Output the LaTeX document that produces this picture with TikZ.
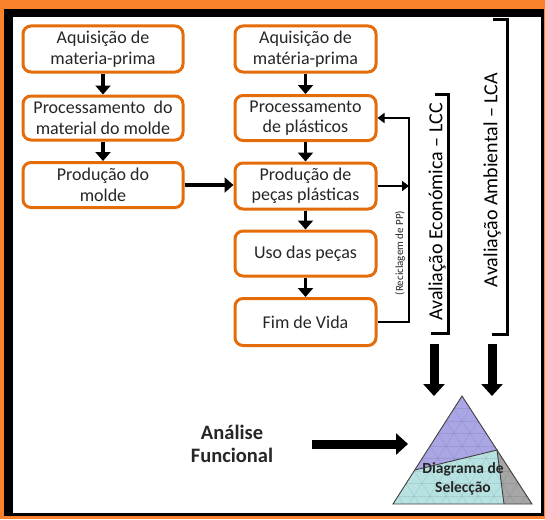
\documentclass[tikz,border=0pt]{standalone}
\usepackage{fontspec}
\setmainfont{Carlito}
\usetikzlibrary{arrows.meta}
\definecolor{bgorange}{RGB}{250,130,45}
\definecolor{boxorange}{RGB}{228,108,10}
\definecolor{txt}{RGB}{38,38,38}
\definecolor{tripurple}{RGB}{170,166,230}
\definecolor{tricyan}{RGB}{183,226,226}
\definecolor{trigrey}{RGB}{166,166,166}
\begin{document}
\begin{tikzpicture}[x=1pt,y=-1pt,
 stagebox/.style={draw=boxorange, line width=3pt, rounded corners=8pt, fill=white, align=center, inner sep=0pt, text=txt, font=\fontsize{18}{20.5}\selectfont},
 flow/.style={line width=3.5pt, -{Triangle[width=15pt,length=9pt]}},
 recyc/.style={line width=2.2pt, -{Triangle[width=10pt,length=7pt]}},
 bracketline/.style={line width=3pt},
 bigarrow/.style={line width=9pt, -{Triangle[width=21pt,length=12pt]}},
 gridline/.style={black, opacity=0.08, line width=0.6pt},
 evaltext/.style={rotate=90, font=\fontsize{20}{24}\selectfont, text=black, inner sep=0pt},
]
\useasboundingbox (0,0) rectangle (545,519);
\fill[bgorange] (0,0) rectangle (545,519);
\fill[black] (4,9) rectangle (544,516);
\fill[white] (13,17) rectangle (541,513);

% left column
\node[stagebox, minimum width=160pt, minimum height=46pt] (L1) at (103,49) {Aquisição de\\materia-prima};
\node[stagebox, minimum width=160pt, minimum height=44pt] (L2) at (103,118) {Processamento\ \ do\\material do molde};
\node[stagebox, minimum width=160pt, minimum height=45pt] (L3) at (103,185) {Produção do\\molde};
% middle column
\node[stagebox, minimum width=141pt, minimum height=46pt] (M1) at (305.5,49) {Aquisição de\\matéria-prima};
\node[stagebox, minimum width=141pt, minimum height=45pt] (M2) at (305.5,118) {Processamento\\de plásticos};
\node[stagebox, minimum width=141pt, minimum height=46pt] (M3) at (305.5,186) {Produção de\\peças plásticas};
\node[stagebox, minimum width=141pt, minimum height=45pt] (M4) at (305.5,253.5) {Uso das peças};
\node[stagebox, minimum width=141pt, minimum height=47pt] (M5) at (305.5,322) {Fim de Vida};

\draw[flow] (L1) -- (L2);
\draw[flow] (L2) -- (L3);
\draw[flow] (M1) -- (M2);
\draw[flow] (M2) -- (M3);
\draw[flow] (M3) -- (M4);
\draw[flow] (M4) -- (M5);
\draw[flow] (L3.east |- 0,185) -- (M3.west |- 0,185);

% recycling loop
\coordinate (rb) at (409,322);
\coordinate (rt) at (409,118);
\coordinate (rm) at (409,186);
\draw[recyc] (M5.east) -- (rb) -- (rt) -- (M2.east);
\draw[recyc] (M3.east) -- (rm);
\node[rotate=90, font=\fontsize{11}{13}\selectfont, text=txt, inner sep=0pt] (rec) at (400,253) {(Reciclagem de PP)};

% brackets
\draw[bracketline] (435,94) -- (448,94) -- (448,333) -- (431,333);
\draw[bracketline] (493,20) -- (507,20) -- (507,334) -- (492,334);
\node[evaltext] (lcc) at (437,212) {Avaliação Económica – LCC};
\node[evaltext] (lca) at (492,180) {Avaliação Ambiental – LCA};

% big arrows
\coordinate (a1s) at (434,344);
\coordinate (a1e) at (434,396);
\coordinate (a2s) at (492,344);
\coordinate (a2e) at (492,396);
\draw[bigarrow] (a1s) -- (a1e);
\draw[bigarrow] (a2s) -- (a2e);

\node[font=\bfseries\fontsize{20.5}{23}\selectfont, align=center, text=txt, inner sep=0pt] (af) at (232,444) {Análise\\Funcional};
\coordinate (hs) at (312,444);
\coordinate (he) at (408,444);
\draw[bigarrow] (hs) -- (he);

% selection diagram
\fill[tripurple] (462,396) -- (415,470) -- (497,450) -- cycle;
\fill[tricyan] (415,470) -- (497,450) -- (504,504) -- (393,504) -- cycle;
\fill[trigrey] (497,450) -- (532,504) -- (504,504) -- cycle;
\begin{scope}
\clip (393,504) -- (462,396) -- (532,504) -- cycle;
\foreach \k in {0,...,9} \draw[gridline] (380,396+\k*12.5) -- (545,396+\k*12.5);
\foreach \k in {-12,...,12} {
  \draw[gridline] (462+\k*16,396) -- ++(69.3,108);
  \draw[gridline] (462+\k*16,396) -- ++(-69.3,108);
}
\end{scope}
\draw[black!75, line width=0.9pt] (415,470) -- (497,450) -- (504,504);
\draw[black!75, line width=0.9pt] (393,504) -- (462,396) -- (532,504) -- cycle;
\node[font=\bfseries\fontsize{15.5}{19.5}\selectfont, align=center, text=txt, inner sep=0pt] (ds) at (463,479) {Diagrama de\\Selecção};
\end{tikzpicture}
\end{document}
